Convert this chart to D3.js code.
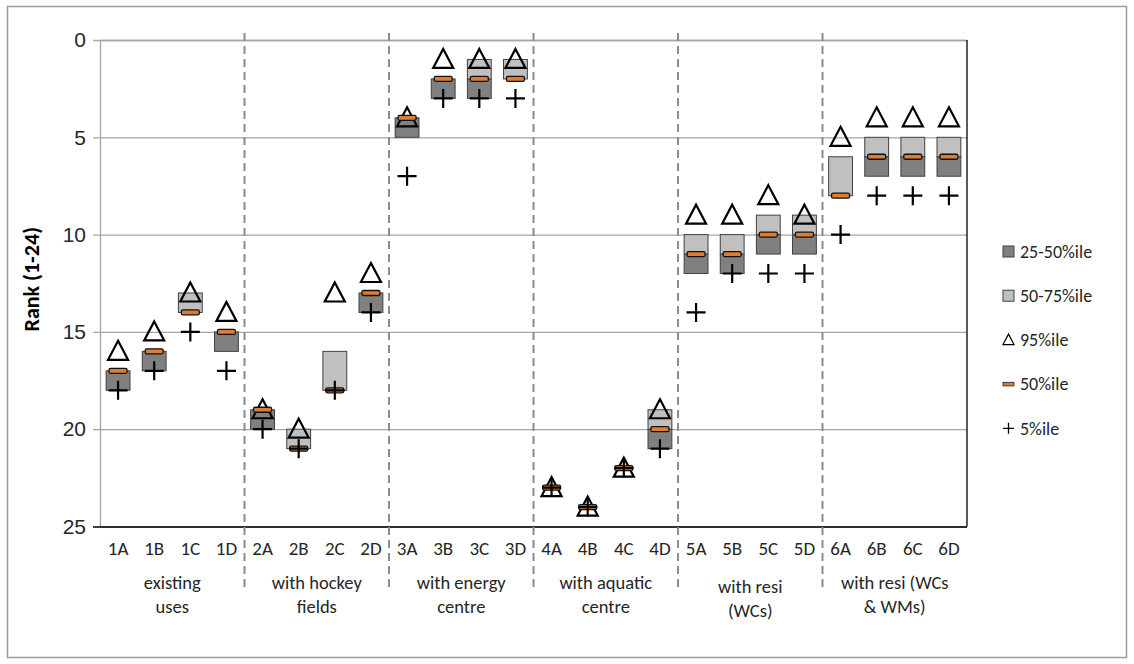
<!DOCTYPE html>
<html>
<head>
<meta charset="utf-8">
<script src="https://cdn.jsdelivr.net/npm/d3@7"></script>
<style>
  html, body { margin: 0; padding: 0; background: #fff; }
  svg { display: block; font-family: Carlito, Lato, "Liberation Sans", sans-serif; }
</style>
</head>
<body>
<svg id="chart" width="1134" height="664"></svg>
<script>
// ---- data ----
const categories = ["1A","1B","1C","1D","2A","2B","2C","2D","3A","3B","3C","3D",
                    "4A","4B","4C","4D","5A","5B","5C","5D","6A","6B","6C","6D"];
const groupLabels = [["existing","uses"],["with hockey","fields"],["with energy","centre"],
                     ["with aquatic","centre"],["with resi","(WCs)"],["with resi (WCs","& WMs)"]];
const p5  = [18,17,15,17, 20,21,18,14,  7, 3, 3, 3, 23,24,22,21, 14,12,12,12, 10, 8, 8, 8];
const p25 = [18,17,14,16, 20,21,18,14,  5, 3, 3, 2, 23,24,22,21, 12,12,11,11,  8, 7, 7, 7];
const p50 = [17,16,14,15, 19,21,18,13,  4, 2, 2, 2, 23,24,22,20, 11,11,10,10,  8, 6, 6, 6];
const p75 = [17,16,13,15, 19,20,16,13,  4, 2, 1, 1, 23,24,22,19, 10,10, 9, 9,  6, 5, 5, 5];
const p95 = [16,15,13,14, 19,20,13,12,  4, 1, 1, 1, 23,24,22,19,  9, 9, 8, 9,  5, 4, 4, 4];
const yTicks = [0,5,10,15,20,25];
const legendItems = ["25-50%ile","50-75%ile","95%ile","50%ile","5%ile"];

// ---- layout ----
const svg = d3.select("#chart");
const X0 = 100, X1 = 967, Y0 = 40, Y1 = 526.5;
const DARK = "#808080", LIGHT = "#c0c0c0", ORANGE = "#dc7d33";

const x = d3.scaleBand().domain(categories).range([X0, X1]).paddingInner(0.34).paddingOuter(0.17);
const y = d3.scaleLinear().domain([0, 25]).range([Y0, Y1]);
const step = x.step();
const cx = c => x(c) + x.bandwidth() / 2;

// outer border
svg.append("rect").attr("x", 7.5).attr("y", 6.5).attr("width", 1119).attr("height", 651)
  .attr("fill", "#fff").attr("stroke", "#9a9a9a").attr("stroke-width", 1.5);

// gridlines + y axis
const yAxis = d3.axisLeft(y).tickValues(yTicks).tickSize(-(X1 - X0)).tickPadding(14);
const gy = svg.append("g").attr("transform", `translate(${X0},0)`).call(yAxis);
gy.select(".domain").attr("stroke", "#a6a6a6").attr("stroke-width", 1.3);
gy.selectAll(".tick line").attr("stroke", "#a6a6a6").attr("stroke-width", 1.3).attr("x1", -7);
gy.selectAll(".tick text").attr("font-size", 21).attr("fill", "#262626");
gy.selectAll(".tick").filter(d => d === 25).select("line").attr("stroke", "#000").attr("stroke-width", 1.3);

// right edge of plot area
svg.append("line").attr("x1", X1).attr("x2", X1).attr("y1", y(0)).attr("y2", y(25))
  .attr("stroke", "#000").attr("stroke-width", 1.3);

// y title
svg.append("text").attr("transform", `translate(39,${(Y0 + Y1) / 2 - 4}) rotate(-90)`)
  .attr("text-anchor", "middle").attr("font-weight", "bold").attr("font-size", 22)
  .attr("fill", "#000").text("Rank (1-24)");

// group separators (dashed)
d3.range(1, groupLabels.length).forEach(g => {
  const sx = x(categories[g * 4]) - step * x.paddingInner() / 2;
  svg.append("line").attr("x1", sx).attr("x2", sx).attr("y1", 33).attr("y2", 591)
    .attr("stroke", "#8c8c8c").attr("stroke-width", 2).attr("stroke-dasharray", "8,5");
});

// category labels
svg.append("g").selectAll("text").data(categories).join("text")
  .attr("x", d => cx(d)).attr("y", 548).attr("dy", "0.35em")
  .attr("text-anchor", "middle").attr("font-size", 19).attr("fill", "#262626").text(d => d);

// group labels
groupLabels.forEach((lines, g) => {
  const gx = x(categories[g * 4]) - step * x.paddingInner() / 2 + step * 2;
  const off = g === 4 ? 4 : 0;
  lines.forEach((t, i) => {
    svg.append("text").attr("x", gx).attr("y", 583 + off + i * 24).attr("dy", "0.35em")
      .attr("text-anchor", "middle").attr("font-size", 18.5).attr("fill", "#262626").text(t);
  });
});

// boxes
const rows = categories.map((c, i) => ({c, p5: p5[i], p25: p25[i], p50: p50[i], p75: p75[i], p95: p95[i]}));
const bw = x.bandwidth();
svg.append("g").selectAll("rect").data(rows.filter(d => d.p25 !== d.p50)).join("rect")
  .attr("x", d => x(d.c)).attr("width", bw)
  .attr("y", d => y(d.p50)).attr("height", d => y(d.p25) - y(d.p50))
  .attr("fill", DARK).attr("stroke", "#404040").attr("stroke-width", 1);
svg.append("g").selectAll("rect").data(rows.filter(d => d.p75 !== d.p50)).join("rect")
  .attr("x", d => x(d.c)).attr("width", bw)
  .attr("y", d => y(d.p75)).attr("height", d => y(d.p50) - y(d.p75))
  .attr("fill", LIGHT).attr("stroke", "#404040").attr("stroke-width", 1);

// markers
const triPath = (px, py, s) => `M${px},${py - 10.5 * s}L${px + 10 * s},${py + 8.5 * s}L${px - 10 * s},${py + 8.5 * s}Z`;
const plusPath = (px, py, s) => `M${px - 9.5 * s},${py}H${px + 9.5 * s}M${px},${py - 9.5 * s}V${py + 9.5 * s}`;

svg.append("g").selectAll("path").data(rows).join("path")
  .attr("d", d => triPath(cx(d.c), y(d.p95), 1))
  .attr("fill", "none").attr("stroke", "#000").attr("stroke-width", 2.2);
svg.append("g").selectAll("rect").data(rows).join("rect")
  .attr("x", d => cx(d.c) - 9).attr("y", d => y(d.p50) - 2.5).attr("width", 18).attr("height", 5)
  .attr("rx", 1.5).attr("fill", ORANGE).attr("stroke", "#111").attr("stroke-width", 1.3);
svg.append("g").selectAll("path").data(rows).join("path")
  .attr("d", d => plusPath(cx(d.c), y(d.p5), 1))
  .attr("fill", "none").attr("stroke", "#000").attr("stroke-width", 2.2);

// legend
const lg = svg.append("g");
const lx = 1003, ly0 = 251.5, ldy = 44.2;
legendItems.forEach((t, i) => {
  const ly = ly0 + i * ldy;
  const mx = lx + 5.5;
  if (i === 0 || i === 1) {
    lg.append("rect").attr("x", lx).attr("y", ly - 5.5).attr("width", 11).attr("height", 11)
      .attr("fill", i === 0 ? DARK : LIGHT).attr("stroke", "#404040").attr("stroke-width", 1);
  } else if (i === 2) {
    lg.append("path").attr("d", triPath(mx, ly, 0.55)).attr("fill", "none")
      .attr("stroke", "#000").attr("stroke-width", 1.2);
  } else if (i === 3) {
    lg.append("rect").attr("x", lx).attr("y", ly - 1.8).attr("width", 11).attr("height", 3.6)
      .attr("fill", ORANGE).attr("stroke", "#222").attr("stroke-width", 0.8);
  } else {
    lg.append("path").attr("d", plusPath(mx, ly, 0.58)).attr("fill", "none")
      .attr("stroke", "#000").attr("stroke-width", 1.3);
  }
  lg.append("text").attr("x", 1020).attr("y", ly).attr("dy", "0.35em")
    .attr("font-size", 18).attr("fill", "#262626").text(t);
});
</script>
</body>
</html>
